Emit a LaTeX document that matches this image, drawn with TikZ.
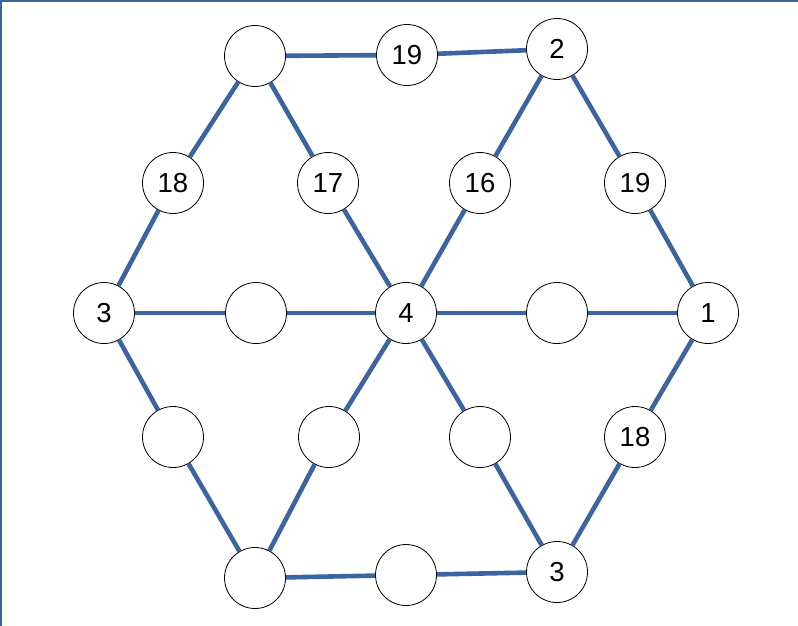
\documentclass[tikz,border=0pt]{standalone}
\usepackage{fontspec}
\setmainfont{Liberation Sans}
\definecolor{edgeblue}{RGB}{59,100,161}
\begin{document}
\begin{tikzpicture}[x=1pt,y=-1pt,
  cnode/.style={circle,draw=black,line width=0.8pt,fill=white,minimum size=61pt,inner sep=0pt,font=\fontsize{27.5}{30}\selectfont},
  link/.style={draw=edgeblue,line width=4.6pt}]
\useasboundingbox (0,0) rectangle (798,626);
\draw[edgeblue,line width=1.6pt] (0.8,626) -- (0.8,0.8) -- (798,0.8);
% nodes
\node[cnode] (tl) at (255,56) {};
\node[cnode] (t19) at (407,55) {19};
\node[cnode] (t2) at (557,49) {2};
\node[cnode] (r18) at (173,183) {18};
\node[cnode] (r17) at (328,183) {17};
\node[cnode] (r16) at (480,183) {16};
\node[cnode] (r19) at (635,183) {19};
\node[cnode] (m3) at (104,313) {3};
\node[cnode] (me1) at (256,313) {};
\node[cnode] (m4) at (406,313) {4};
\node[cnode] (me2) at (557,313) {};
\node[cnode] (m1) at (708,313) {1};
\node[cnode] (l1) at (173,437) {};
\node[cnode] (l2) at (329,437) {};
\node[cnode] (l3) at (480,437) {};
\node[cnode] (l18) at (635,437) {18};
\node[cnode] (bl) at (255,578) {};
\node[cnode] (bm) at (406,575) {};
\node[cnode] (b3) at (557,572) {3};
% edges
\path[link] (tl) -- (t19);
\path[link] (t19) -- (t2);
\path[link] (tl) -- (r18);
\path[link] (r18) -- (m3);
\path[link] (tl) -- (r17);
\path[link] (r17) -- (m4);
\path[link] (t2) -- (r16);
\path[link] (r16) -- (m4);
\path[link] (t2) -- (r19);
\path[link] (r19) -- (m1);
\path[link] (m3) -- (me1);
\path[link] (me1) -- (m4);
\path[link] (m4) -- (me2);
\path[link] (me2) -- (m1);
\path[link] (m3) -- (l1);
\path[link] (l1) -- (bl);
\path[link] (m4) -- (l2);
\path[link] (l2) -- (bl);
\path[link] (m4) -- (l3);
\path[link] (l3) -- (b3);
\path[link] (m1) -- (l18);
\path[link] (l18) -- (b3);
\path[link] (bl) -- (bm);
\path[link] (bm) -- (b3);
\end{tikzpicture}
\end{document}
